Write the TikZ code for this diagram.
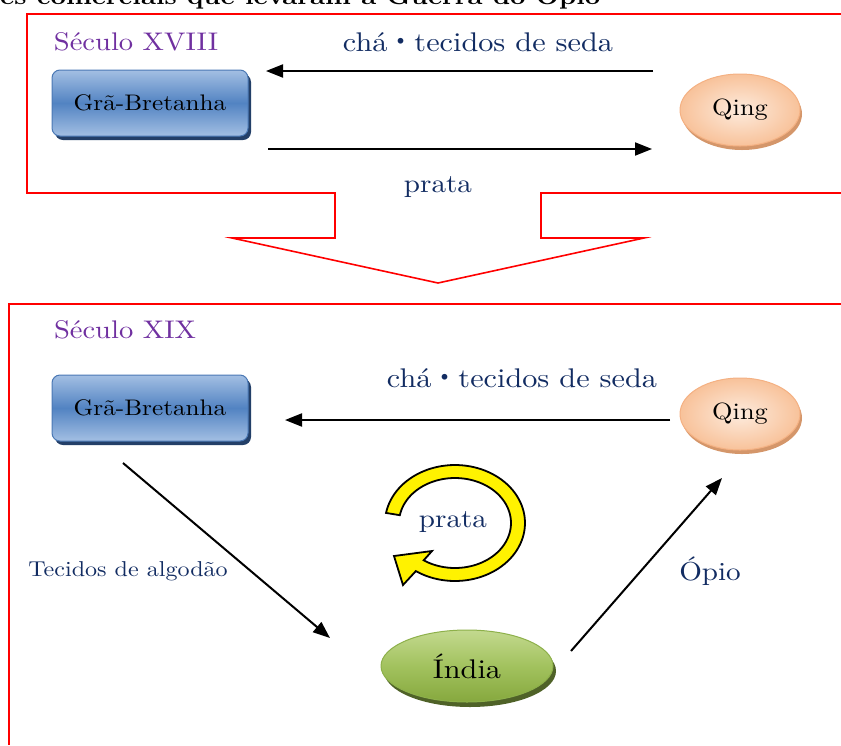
\documentclass[tikz,border=0pt]{standalone}
\usepackage{fontspec}
\setmainfont{lmroman10-regular}[Extension=.otf, BoldFont=lmroman10-bold, FakeStretch=1.12]
\newfontfamily\cjk{Noto Sans CJK JP}
\usetikzlibrary{shapes.geometric,arrows.meta,shadows}
\definecolor{navy}{HTML}{122C62}
\definecolor{purp}{HTML}{7030A0}
\definecolor{frame}{HTML}{FF0000}
\definecolor{HTMLblue}{HTML}{4A78B4}
\definecolor{boxlight}{HTML}{A3BFE3}
\definecolor{boxmid}{HTML}{5283C2}
\definecolor{boxshadow}{HTML}{233F68}
\definecolor{peachborder}{HTML}{F4B183}
\definecolor{peachin}{HTML}{FDEBDD}
\definecolor{peachout}{HTML}{F8C29A}
\definecolor{peachshadow}{HTML}{D4966A}
\definecolor{greenborder}{HTML}{8DB04A}
\definecolor{greenlight}{HTML}{C3D98F}
\definecolor{greenmid}{HTML}{A2C25E}
\definecolor{greendark}{HTML}{86A83E}
\definecolor{greenshadow}{HTML}{4F6228}
\tikzset{
  frameline/.style={draw=frame, line width=1.6pt, line join=miter},
  gbbox/.style={rectangle, rounded corners=8pt, minimum width=196pt, minimum height=66pt,
    draw=HTMLblue, line width=1pt, top color=boxlight, bottom color=boxlight, middle color=boxmid,
    drop shadow={shadow xshift=3pt, shadow yshift=-4pt, fill=boxshadow, opacity=1},
    font=\fontsize{22.5}{24}\selectfont, text=black},
  qingnode/.style={ellipse, minimum width=120pt, minimum height=72pt, draw=peachborder, line width=1pt,
    inner color=peachin, outer color=peachout,
    drop shadow={shadow xshift=2pt, shadow yshift=-4pt, fill=peachshadow, opacity=1},
    font=\fontsize{23.5}{25}\selectfont, text=black},
  indianode/.style={ellipse, minimum width=172pt, minimum height=72pt, draw=greenborder, line width=1pt,
    top color=greenlight, bottom color=greendark, middle color=greenmid,
    drop shadow={shadow xshift=3pt, shadow yshift=-5pt, fill=greenshadow, opacity=1},
    font=\fontsize{27}{29}\selectfont, text=black},
  century/.style={text=purp, font=\fontsize{25.5}{28}\selectfont},
  goodslabel/.style={text=navy, font=\fontsize{27}{29}\selectfont},
  flowlabel/.style={text=navy, font=\fontsize{26}{28}\selectfont},
  smalllabel/.style={text=navy, font=\fontsize{21.5}{24}\selectfont},
  flow/.style={draw=black, line width=2pt, -{Triangle[length=17pt,width=13pt]}},
}
\begin{document}
\begin{tikzpicture}[x=1pt,y=-1pt]
\useasboundingbox (0,0) rectangle (841,745);
% title (cut off at top, as in the reference)
\node[anchor=base west, inner sep=0pt, font=\bfseries\fontsize{24}{26}\selectfont] (title) at (0,4) {es comerciais que levaram à Guerra do Ópio};

% ---- top frame with down arrow
\draw[frameline] (841,14) -- (27,14) -- (27,193) -- (335,193) -- (335,238) -- (232,238)
   -- (438,283) -- (644,238) -- (541,238) -- (541,193) -- (841,193);
% ---- bottom frame
\draw[frameline] (9,745) -- (9,304) -- (841,304);

% ---- 18th century
\node[century] (c18) at (136,42) {Século XVIII};
\node[goodslabel] (goods18) at (478,42) {chá{\cjk ・}tecidos de seda};
\node[flowlabel] (silver18) at (438,187) {prata};
\node[gbbox] (gb18) at (150,103) {Grã-Bretanha};
\node[qingnode] (qing18) at (740,110) {Qing};
\coordinate (a18s) at (653,71);
\coordinate (a18e) at (266,71);
\coordinate (b18s) at (268,149);
\coordinate (b18e) at (652,149);
\draw[flow] (a18s) -- (a18e);
\draw[flow] (b18s) -- (b18e);

% ---- 19th century
\node[century] (c19) at (125,330) {Século XIX};
\node[goodslabel] (goods19) at (522,378) {chá{\cjk ・}tecidos de seda};
\node[gbbox] (gb19) at (150,408) {Grã-Bretanha};
\node[qingnode] (qing19) at (740,414) {Qing};
\node[indianode] (india) at (467,666) {Índia};
\node[smalllabel] (cotton) at (128,571) {Tecidos de algodão};
\node[flowlabel] (opium) at (710,571) {Ópio};
\node[flowlabel] (silver19) at (453,522) {prata};
\coordinate (q19s) at (670,420);
\coordinate (q19e) at (285,420);
\coordinate (g19s) at (123,463);
\coordinate (g19e) at (330,638);
\coordinate (i19s) at (571,651);
\coordinate (i19e) at (722,478);
\draw[flow] (q19s) -- (q19e);
\draw[flow] (g19s) -- (g19e);
\draw[flow] (i19s) -- (i19e);

% ---- yellow circular arrow
\filldraw[fill=yellow, draw=black, line width=1.8pt, line join=miter]
  plot[domain=190:484, samples=90] ({455+70*cos(\x)},{523+58*sin(\x)})
  -- (403,585) -- (394,556) -- (432,551)
  -- plot[domain=484:190, samples=90] ({455+56*cos(\x)},{523+45*sin(\x)})
  -- cycle;
\end{tikzpicture}
\end{document}
